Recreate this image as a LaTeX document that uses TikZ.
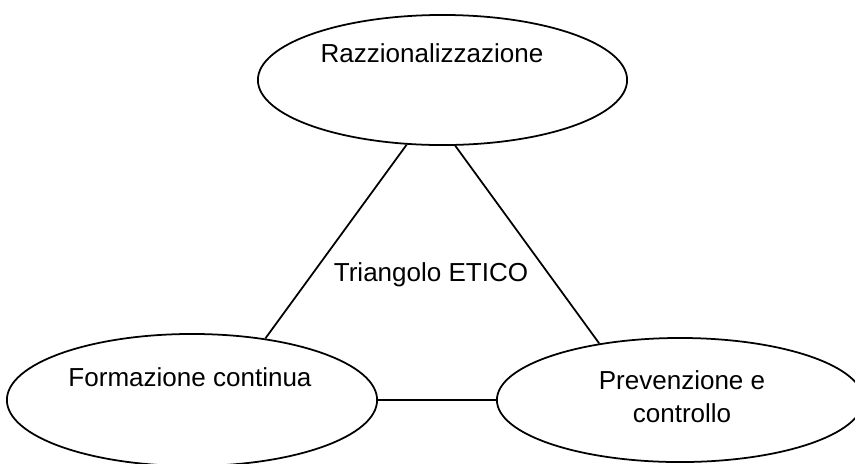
\documentclass[tikz,border=0pt]{standalone}
\usepackage{fontspec}
\setmainfont{Liberation Sans}
\usepackage{tikz}
\usetikzlibrary{shapes.geometric}

\begin{document}
\begin{tikzpicture}[x=0.01cm,y=-0.01cm,line width=0.5pt,
    font=\fontsize{7.4}{9.4}\selectfont,
    polo/.style={draw,ellipse,inner sep=0pt}]
              \useasboundingbox (0,0) rectangle (855,463);
              \clip (0,0) rectangle (855,463);

              \node[polo,minimum width=3.69cm,minimum height=1.3cm,
                label={[xshift=-0.105cm,yshift=0.27cm]center:Razzionalizzazione}] (Raz) at (442.5,80) {};
              \node[polo,minimum width=3.7cm,minimum height=1.32cm,
                label={[xshift=-0.02cm,yshift=0.23cm]center:Formazione continua}] (For) at (192,400) {};
              \node[polo,minimum width=3.66cm,minimum height=1.24cm,
                label={[align=center,xshift=0.02cm,yshift=0.03cm]center:Prevenzione e\\controllo}] (Pre) at (680,400) {};

              \draw (Raz.241) -- (For.40);
              \draw (Raz.281) -- (Pre.145.5);
              \draw (For.east) -- (Pre.west);

              \node (T) at (431,275) {Triangolo ETICO};
            \end{tikzpicture}
\end{document}
